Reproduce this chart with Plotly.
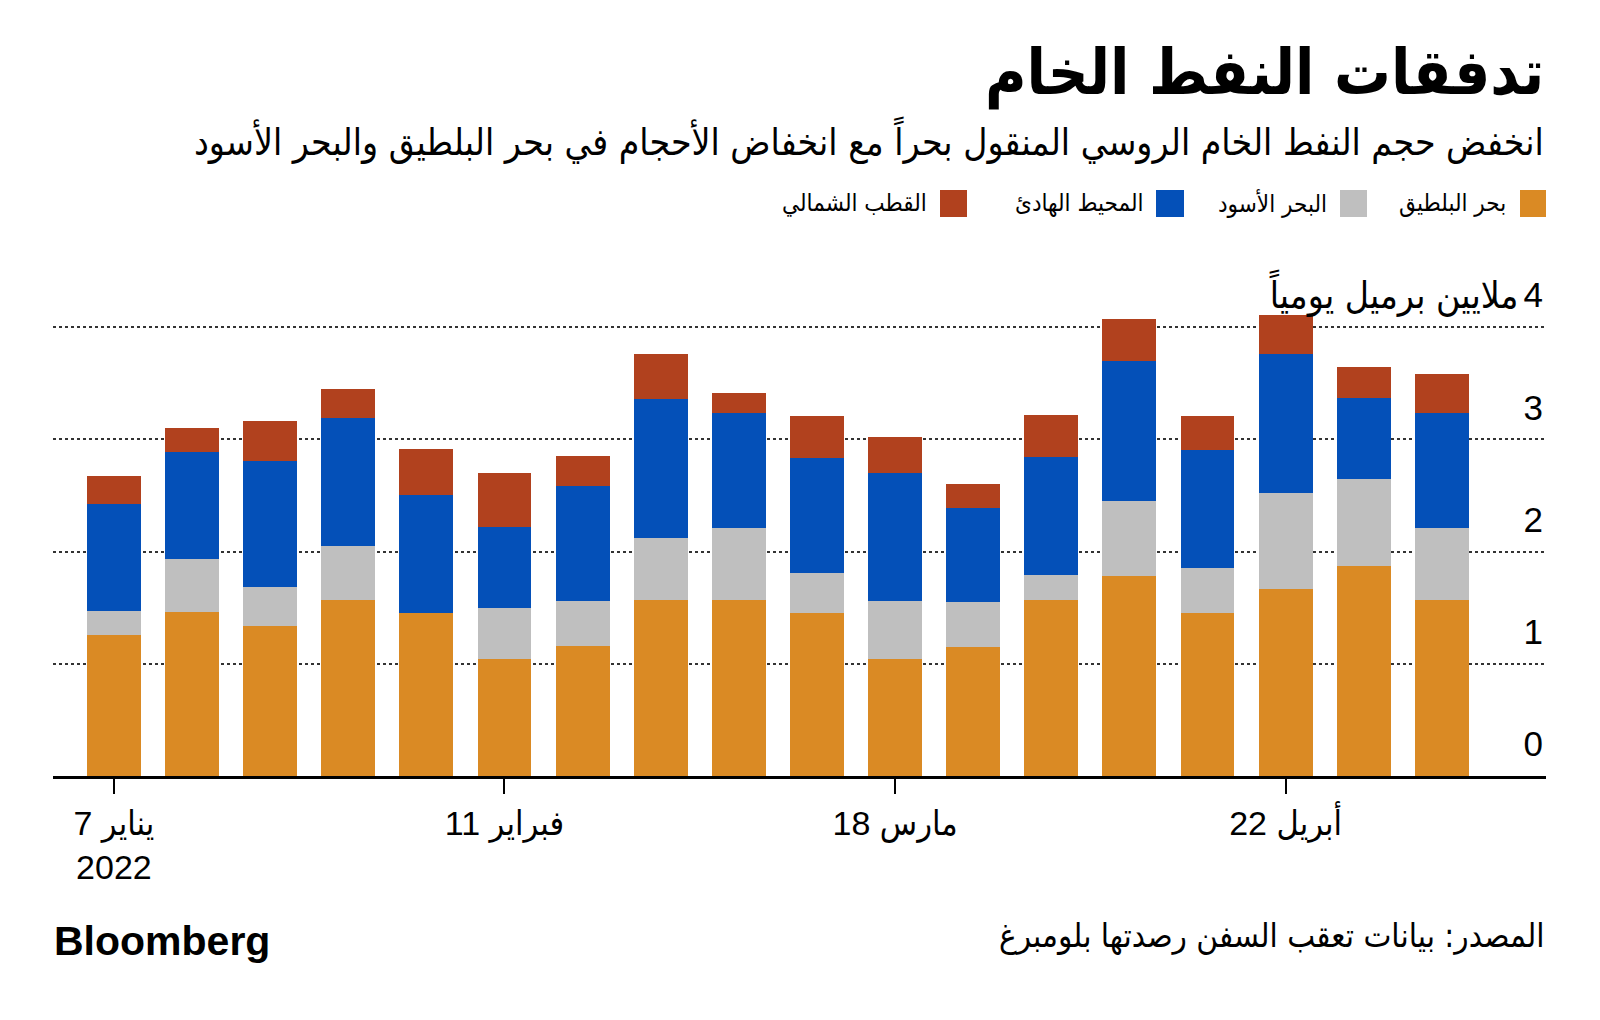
import plotly.graph_objects as go

weeks = ['2022-01-07', '2022-01-14', '2022-01-21', '2022-01-28', '2022-02-04', '2022-02-11',
         '2022-02-18', '2022-02-25', '2022-03-04', '2022-03-11', '2022-03-18', '2022-03-25',
         '2022-04-01', '2022-04-08', '2022-04-15', '2022-04-22', '2022-04-29', '2022-05-06']
baltic = [1.26, 1.46, 1.34, 1.57, 1.45, 1.04, 1.16, 1.57, 1.57, 1.45, 1.04, 1.15, 1.57, 1.78, 1.45, 1.67, 1.87, 1.57]
black_sea = [0.21, 0.47, 0.34, 0.48, 0.0, 0.46, 0.40, 0.55, 0.64, 0.36, 0.52, 0.40, 0.22, 0.67, 0.40, 0.85, 0.78, 0.64]
pacific = [0.95, 0.96, 1.13, 1.14, 1.05, 0.72, 1.02, 1.24, 1.02, 1.02, 1.14, 0.84, 1.05, 1.25, 1.05, 1.24, 0.72, 1.02]
arctic = [0.25, 0.21, 0.35, 0.26, 0.41, 0.48, 0.27, 0.40, 0.18, 0.38, 0.32, 0.21, 0.38, 0.37, 0.31, 0.35, 0.27, 0.35]

series_names = ['بحر البلطيق', 'البحر الأسود', 'المحيط الهادئ', 'القطب الشمالي']
series_colors = ['#DA8A24', '#BFBFBF', '#0450B8', '#B1411E']

x_tickvals = ['2022-01-07', '2022-02-11', '2022-03-18', '2022-04-22']
x_ticktext = ['يناير 7<br>2022', 'فبراير 11', 'مارس 18', 'أبريل 22']
y_tickvals = [0, 1, 2, 3, 4]
y_ticktext = ['0', '1', '2', '3', '4']
y_unit = 'ملايين برميل يومياً'

title = 'تدفقات النفط الخام'
subtitle = 'انخفض حجم النفط الخام الروسي المنقول بحراً مع انخفاض الأحجام في بحر البلطيق والبحر الأسود'
source = 'المصدر: بيانات تعقب السفن رصدتها بلومبرغ'

NUM = 'Liberation Sans, DejaVu Sans Condensed, DejaVu Sans, sans-serif'
AR = 'DejaVu Sans Condensed, DejaVu Sans, sans-serif'

# the page body adds an 8px margin; work in reference pixels and subtract it
OFF = 8
FW, FH = 1600 - 2 * OFF, 1020 - 2 * OFF
PPU = 112.25  # pixels per million barrels in the reference
L, R, T, B = 53 - OFF, 1546 - OFF, 258 - OFF, 776 - OFF
W, H = R - L, B - T
YMAX = H / PPU


def px(x):
    return (x - OFF - L) / W


def py(y):
    return (B - (y - OFF)) / H


fig = go.Figure()
for name, vals, col in zip(series_names, [baltic, black_sea, pacific, arctic], series_colors):
    fig.add_trace(go.Bar(x=weeks, y=vals, name=name, marker=dict(color=col, line=dict(width=0)),
                         showlegend=False))

fig.update_layout(
    width=FW, height=FH,
    margin=dict(l=L, r=FW - R, t=T, b=FH - B),
    paper_bgcolor='white', plot_bgcolor='white',
    barmode='stack', bargap=0.31,
    font=dict(family=NUM, color='#000000'),
    xaxis=dict(type='date', range=['2022-01-01T13:00', '2022-05-15T08:00'],
               tickvals=x_tickvals, ticktext=x_ticktext, ticks='outside', ticklen=15,
               tickwidth=2, tickcolor='black', showline=True, linecolor='black', linewidth=3,
               showgrid=False, zeroline=False, tickfont=dict(size=34, family=NUM, color='black')),
    yaxis=dict(range=[0, YMAX], tickvals=y_tickvals, ticktext=y_ticktext, side='right',
               ticklabelposition='inside', ticks='', showgrid=True, gridcolor='#333333',
               gridwidth=1.6, griddash='dot', zeroline=False, showline=False,
               ticklabelshift=-32, tickfont=dict(size=35, family=NUM, color='black')),
)

annotations = [
    dict(text='<b>' + title + '</b>', x=px(1546), y=py(73), xanchor='right', yanchor='middle',
         font=dict(size=63, family=AR, color='black')),
    dict(text=subtitle, x=px(1546), y=py(140), xanchor='right', yanchor='middle',
         font=dict(size=37, family=AR, color='black')),
    dict(text=source, x=px(1546), y=py(935), xanchor='right', yanchor='middle',
         font=dict(size=33, family=AR, color='black')),
    dict(text='<b>Bloomberg</b>', x=px(52), y=py(941), xanchor='left', yanchor='middle',
         font=dict(size=41, family='Liberation Sans, Arial, sans-serif', color='black')),
]
for a in annotations:
    a.update(xref='paper', yref='paper')

# unit label next to the top tick
annotations.append(dict(text=y_unit, xref='paper', x=px(1520), yref='y', y=y_tickvals[-1],
                        yshift=34, xanchor='right', yanchor='middle',
                        font=dict(size=37, family=AR, color='black')))

leg_sq = [(1520, 1546), (1340, 1367), (1156, 1184), (940, 967)]
leg_txt = [1508, 1329, 1145, 929]
shapes = []
for (x0, x1), tx, name, col in zip(leg_sq, leg_txt, series_names, series_colors):
    shapes.append(dict(type='rect', xref='paper', yref='paper', x0=px(x0), x1=px(x1),
                       y0=py(217), y1=py(190), fillcolor=col, line=dict(width=0)))
    annotations.append(dict(text=name, x=px(tx), y=py(203), xanchor='right', yanchor='middle',
                            xref='paper', yref='paper',
                            font=dict(size=24, family=AR, color='black')))

for a in annotations:
    a.update(showarrow=False)
fig.update_layout(annotations=annotations, shapes=shapes)

fig.write_html('out.html')
